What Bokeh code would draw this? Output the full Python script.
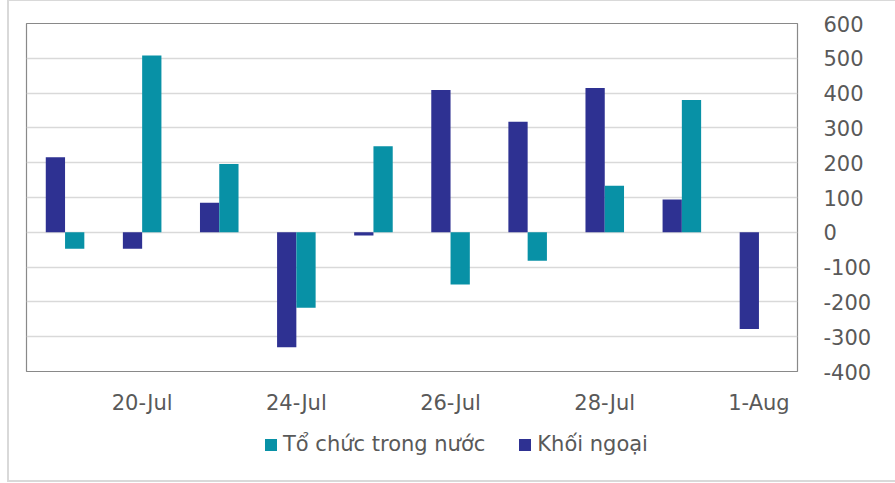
from bokeh.plotting import figure
from bokeh.layouts import column
from bokeh.models import ColumnDataSource, FixedTicker, LinearAxis, Legend, LegendItem, Range1d
from bokeh.embed import file_html
from bokeh.resources import INLINE

dates = ["19-Jul", "20-Jul", "21-Jul", "24-Jul", "25-Jul", "26-Jul", "27-Jul", "28-Jul", "31-Jul", "1-Aug"]
khoi_ngoai = [216, -47, 85, -330, -9, 409, 318, 415, 94, -278]
to_chuc = [-47, 508, 196, -217, 247, -150, -82, 134, 380, 0]
shown_labels = ["20-Jul", "24-Jul", "26-Jul", "28-Jul", "1-Aug"]
y_ticks = [-400, -300, -200, -100, 0, 100, 200, 300, 400, 500, 600]
series_names = ["Tổ chức trong nước", "Khối ngoại"]

NAVY = "#2E3192"
TEAL = "#0891A6"
FONT = "DejaVu Sans"
TXT = "#595959"

W = 890
H1 = 420
H2 = 60
pos = list(range(1, len(dates) + 1))
src = ColumnDataSource(dict(
    x1=[p - 0.125 for p in pos],
    x2=[p + 0.125 for p in pos],
    kn=khoi_ngoai,
    tc=to_chuc,
))

p = figure(width=W, height=H1, output_backend="svg", toolbar_location=None,
           x_range=Range1d(0.5, len(dates) + 0.5), y_range=Range1d(-400, 600),
           y_axis_location=None, min_border_left=26, min_border_top=23,
           min_border_right=W - 797, min_border_bottom=H1 - 371)

r_kn = p.vbar(x="x1", top="kn", bottom=0, width=0.25, source=src, fill_color=NAVY, line_color=None)
r_tc = p.vbar(x="x2", top="tc", bottom=0, width=0.25, source=src, fill_color=TEAL, line_color=None)

p.outline_line_color = "#898989"
p.outline_line_width = 1.2

p.xgrid.visible = False
p.ygrid.grid_line_color = "#D9D9D9"
p.ygrid.grid_line_width = 1.3
p.ygrid.ticker = FixedTicker(ticks=y_ticks)

yax = LinearAxis(ticker=FixedTicker(ticks=y_ticks))
yax.major_label_overrides = {t: str(t) for t in y_ticks}
yax.axis_line_color = None
yax.major_tick_line_color = None
yax.minor_tick_line_color = None
yax.major_label_text_font = FONT
yax.major_label_text_font_size = "21px"
yax.major_label_text_color = TXT
yax.major_label_standoff = 20
p.add_layout(yax, "right")

label_pos = [pos[dates.index(d)] for d in shown_labels]
xax = p.xaxis[0]
xax.ticker = FixedTicker(ticks=label_pos)
xax.major_label_overrides = {lp: lab for lp, lab in zip(label_pos, shown_labels)}
xax.axis_line_color = None
xax.major_tick_line_color = None
xax.minor_tick_line_color = None
xax.major_label_text_font = FONT
xax.major_label_text_font_size = "21px"
xax.major_label_text_color = TXT
xax.major_label_standoff = 13

# legend strip
lf = figure(width=W, height=H2, output_backend="svg", toolbar_location=None,
            x_range=Range1d(0, 1), y_range=Range1d(0, 1),
            x_axis_location=None, y_axis_location=None,
            min_border=0, min_border_left=0, min_border_right=0,
            min_border_top=0, min_border_bottom=0)
lf.outline_line_color = None
lf.grid.visible = False
dummy = ColumnDataSource(dict(x=[-5], top=[-5]))
d_tc = lf.vbar(x="x", top="top", width=0.1, source=dummy, fill_color=TEAL, line_color=None)
d_kn = lf.vbar(x="x", top="top", width=0.1, source=dummy, fill_color=NAVY, line_color=None)

legend = Legend(items=[LegendItem(label=series_names[0], renderers=[d_tc]),
                       LegendItem(label=series_names[1], renderers=[d_kn])],
                location=(237, 24), orientation="horizontal")
legend.padding = 0
legend.margin = 0
legend.spacing = 32
legend.glyph_width = 15
legend.glyph_height = 15
legend.label_standoff = 5
legend.label_text_font = FONT
legend.label_text_font_size = "21px"
legend.label_text_color = TXT
legend.border_line_color = None
legend.background_fill_alpha = 0
lf.add_layout(legend, "center")

frame_css = (":host::after { content: ''; position: absolute; left: 7px; top: -1px; "
             "width: 888px; height: 483px; border: 2px solid #D9D9D9; border-right: none; "
             "box-sizing: border-box; pointer-events: none; }")
layout = column(p, lf, spacing=0, stylesheets=[frame_css])
open("out.html", "w").write(file_html(layout, INLINE))
